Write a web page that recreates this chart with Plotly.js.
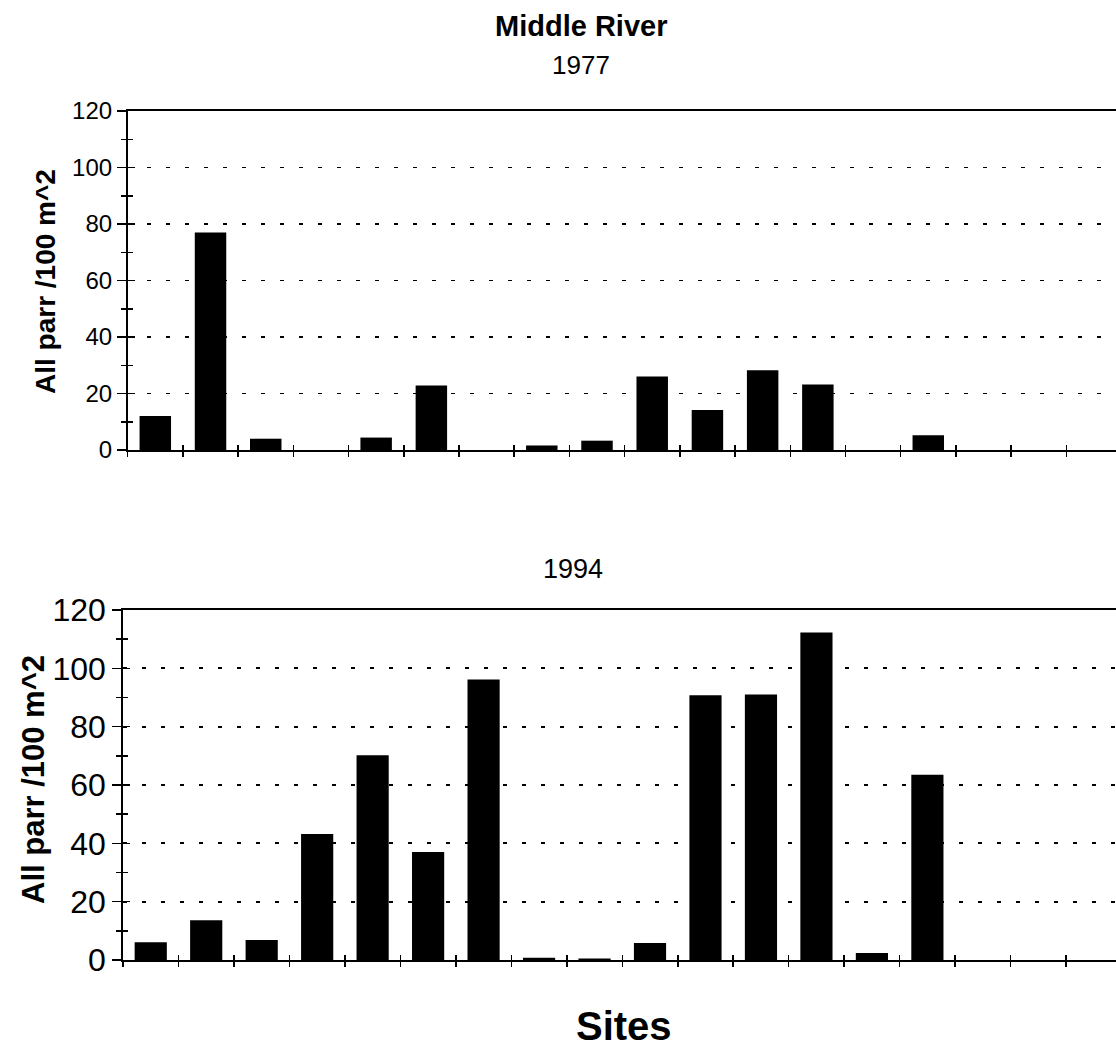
<!DOCTYPE html>
<html>
<head>
<meta charset="utf-8">
<script src="https://cdn.plot.ly/plotly-3.0.1.min.js"></script>
<style>html,body{margin:0;padding:0;background:#fff;}#chart{width:1116px;height:1049px;}</style>
</head>
<body>
<div id="chart"></div>
<script>
const sites = [1, 2, 3, 4, 5, 6, 7, 8, 9, 10, 11, 12, 13, 14, 15, 16, 17, 18];
const parr1977 = [12, 77, 4, 0, 4.4, 22.8, 0, 1.6, 3.3, 26, 14.2, 28.2, 23.2, 0, 5.2, 0, 0, 0];
const parr1994 = [6.1, 13.6, 6.9, 43.2, 70.2, 37, 96.2, 0.8, 0.5, 5.8, 90.8, 91, 112.3, 2.4, 63.5, 0, 0, 0];
const yTickVals = [0, 20, 40, 60, 80, 100, 120];
const yTickText = ['0', '20', '40', '60', '80', '100', '120'];
const yTitle = 'All parr /100 m^2';
const chartTitle = 'Middle River';
const year1 = '1977';
const year2 = '1994';
const xTitle = 'Sites';

const FONT = 'Liberation Sans, Arial, Helvetica, sans-serif';
const boundaries = sites.map(s => s - 0.5).concat([sites[sites.length - 1] + 0.5]);

const traces = [
  {type: 'bar', x: sites, y: parr1977, xaxis: 'x', yaxis: 'y',
   marker: {color: '#000'}, width: 0.57, hoverinfo: 'x+y', showlegend: false},
  {type: 'bar', x: sites, y: parr1994, xaxis: 'x2', yaxis: 'y2',
   marker: {color: '#000'}, width: 0.58, hoverinfo: 'x+y', showlegend: false},
  // empty helper traces so the overlaid tick axes (inner half of crossing ticks) are drawn
  {type: 'scatter', x: [], y: [], xaxis: 'x3', yaxis: 'y3', showlegend: false, hoverinfo: 'skip'},
  {type: 'scatter', x: [], y: [], xaxis: 'x4', yaxis: 'y4', showlegend: false, hoverinfo: 'skip'}
];

function xAx(domain, anchor, inside, overlay) {
  const a = {
    domain: domain, anchor: anchor, range: [0.5, 18.4], type: 'linear',
    tickmode: 'array', tickvals: boundaries, ticks: inside ? 'inside' : 'outside',
    ticklen: 5, tickwidth: 1.5, tickcolor: '#000', showticklabels: false,
    showgrid: false, zeroline: false, fixedrange: true
  };
  if (overlay) { a.overlaying = overlay; a.showline = false; }
  else { a.showline = true; a.linecolor = '#000'; a.linewidth = 1.8; a.mirror = true; }
  return a;
}
function yAx(domain, anchor, fs, inside, overlay) {
  const a = {
    domain: domain, anchor: anchor, range: [0, 120], type: 'linear',
    tickmode: 'array', tickvals: yTickVals, ticktext: yTickText,
    ticks: inside ? 'inside' : 'outside', ticklen: inside ? 7 : 9, tickwidth: 1.5, tickcolor: '#000',
    minor: {tickmode: 'linear', tick0: 10, dtick: 20, ticks: inside ? 'inside' : 'outside', ticklen: 5, tickwidth: 1.5, tickcolor: '#000', showgrid: false},
    zeroline: false, fixedrange: true
  };
  if (overlay) {
    a.overlaying = overlay; a.showline = false; a.showgrid = false; a.showticklabels = false;
  } else {
    a.showline = true; a.linecolor = '#000'; a.linewidth = 1.8;
    a.showgrid = true; a.gridcolor = '#000'; a.gridwidth = 1.8; a.griddash = '4px,15px';
    a.showticklabels = true; a.tickfont = {family: FONT, size: fs, color: '#000'};
  }
  return a;
}

const H = 1049, W = 1116;
const topDom = [1 - 450 / H, 1 - 111 / H];
const botDom = [1 - 960 / H, 1 - 610 / H];
const layout = {
  width: W, height: H, margin: {l: 0, r: 0, t: 0, b: 0},
  paper_bgcolor: '#fff', plot_bgcolor: 'rgba(0,0,0,0)', bargap: 0.43, showlegend: false,
  xaxis: xAx([127.7 / W, 1], 'y', false),
  yaxis: yAx(topDom, 'x', 24, false),
  xaxis3: xAx([127.7 / W, 1], 'y3', true, 'x'),
  yaxis3: yAx(topDom, 'x3', 24, true, 'y'),
  xaxis2: xAx([123 / W, 1], 'y2', false),
  yaxis2: yAx(botDom, 'x2', 32, false),
  xaxis4: xAx([123 / W, 1], 'y4', true, 'x2'),
  yaxis4: yAx(botDom, 'x4', 32, true, 'y2'),
  annotations: [
    {text: '<b>' + chartTitle + '</b>', xref: 'paper', yref: 'paper', x: 581 / W, y: 1 - 26 / H,
     xanchor: 'center', yanchor: 'middle', showarrow: false, font: {family: FONT, size: 29, color: '#000'}},
    {text: year1, xref: 'paper', yref: 'paper', x: 581 / W, y: 1 - 65 / H,
     xanchor: 'center', yanchor: 'middle', showarrow: false, font: {family: FONT, size: 26, color: '#000'}},
    {text: year2, xref: 'paper', yref: 'paper', x: 573 / W, y: 1 - 569 / H,
     xanchor: 'center', yanchor: 'middle', showarrow: false, font: {family: FONT, size: 27, color: '#000'}},
    {text: '<b>' + xTitle + '</b>', xref: 'paper', yref: 'paper', x: 624 / W, y: 1 - 1026 / H,
     xanchor: 'center', yanchor: 'middle', showarrow: false, font: {family: FONT, size: 40, color: '#000'}},
    {text: '<b>' + yTitle + '</b>', xref: 'paper', yref: 'paper', x: 45 / W, y: 1 - 282 / H, textangle: -90,
     xanchor: 'center', yanchor: 'middle', showarrow: false, font: {family: FONT, size: 28, color: '#000'}},
    {text: '<b>' + yTitle + '</b>', xref: 'paper', yref: 'paper', x: 33 / W, y: 1 - 780 / H, textangle: -90,
     xanchor: 'center', yanchor: 'middle', showarrow: false, font: {family: FONT, size: 31, color: '#000'}}
  ]
};

Plotly.newPlot('chart', traces, layout, {displayModeBar: false, staticPlot: true});
</script>
</body>
</html>
